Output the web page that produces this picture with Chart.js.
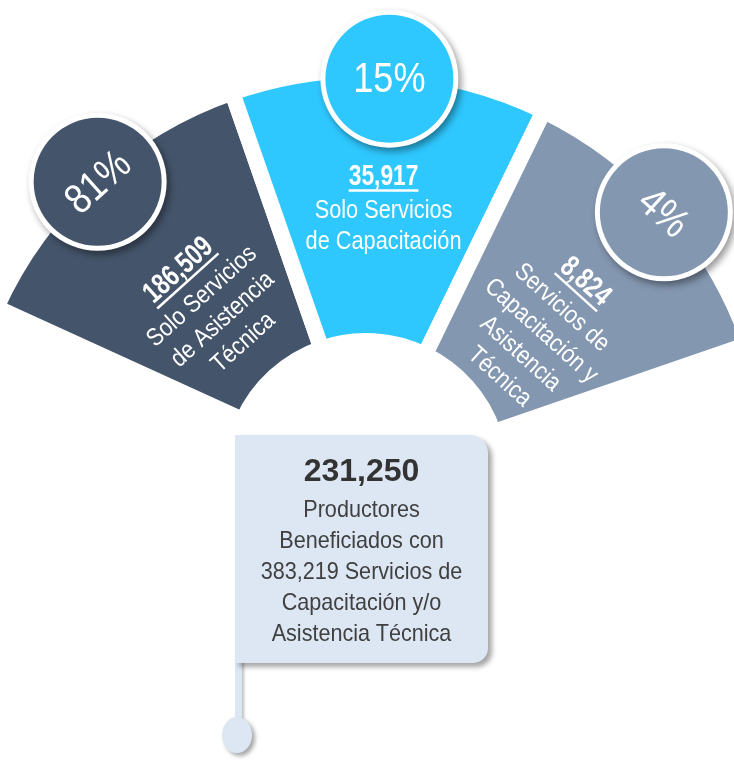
<!DOCTYPE html>
<html lang="es">
<head>
<meta charset="utf-8">
<script src="https://cdn.jsdelivr.net/npm/chart.js@4.4.1/dist/chart.umd.min.js"></script>
<style>
  html, body { margin: 0; padding: 0; background: #fff; }
  body { width: 734px; height: 763px; position: relative; overflow: hidden; }
  #fan { position: absolute; left: 0; top: 0; }
  .pole { position: absolute; left: 235px; top: 655px; width: 7px; height: 70px; background: #dde7f3; box-shadow: 2px 2px 3px rgba(0,0,0,0.25); }
  .knob { position: absolute; left: 222px; top: 717px; width: 30px; height: 36px; border-radius: 50%; background: #dde7f3; box-shadow: 3px 3px 4px rgba(0,0,0,0.35); }
  .flag { position: absolute; left: 235px; top: 435px; width: 253px; height: 228px; background: #dde7f3; border-radius: 0 18px 15px 0; box-shadow: 4px 4px 5px rgba(0,0,0,0.35); text-align: center; color: #404040; }
  .flag .big { font: bold 32px "Liberation Sans", Arial, sans-serif; color: #333; line-height: 40px; padding-top: 15px; }
  .flag .body { font: 24px "Liberation Sans", Arial, sans-serif; line-height: 31px; margin-top: 3px; transform: scaleX(0.9); transform-origin: 50% 0; white-space: nowrap; }
</style>
</head>
<body>
<canvas id="fan" width="734" height="763"></canvas>
<div class="pole"></div>
<div class="knob"></div>
<div class="flag"><div class="big" id="total"></div><div class="body" id="totalText"></div></div>
<script>
// slices of the fan (left to right)
const sliceNames = ["Solo Servicios de Asistencia Técnica", "Solo Servicios de Capacitación", "Servicios de Capacitación y Asistencia Técnica"];
const productores = [186509, 35917, 8824];
const porcentajes = [81, 15, 4];
// the fan draws the three slices about the same width, not by value
const sliceSpanDeg = [46.3, 45.2, 45];
const labelLines = [
  ["Solo Servicios", "de Asistencia", "Técnica"],
  ["Solo Servicios", "de Capacitación"],
  ["Servicios de", "Capacitación y", "Asistencia", "Técnica"]
];
const totalProductores = 231250;
const totalServicios = 383219;

// styling
const colors = ["#44546a", "#2fc8fe", "#8497b0"];
const labelRadius = [278, 300, 293];
const textRotationDeg = [-42, 0, 42];
const FONT = "'Liberation Sans', Arial, sans-serif";

const fmt = (n) => n.toLocaleString("en-US");

document.getElementById("total").textContent = fmt(totalProductores);
document.getElementById("totalText").innerHTML =
  "Productores<br>Beneficiados con<br>" + fmt(totalServicios) + " Servicios de<br>Capacitación y/o<br>Asistencia Técnica";

const fanLabels = {
  id: "fanLabels",
  afterDatasetsDraw(chart) {
    const ctx = chart.ctx;
    const arcs = chart.getDatasetMeta(0).data;
    arcs.forEach((arc, i) => {
      const { x, y, startAngle, endAngle, outerRadius } = arc;
      const mid = (startAngle + endAngle) / 2;
      const rot = textRotationDeg[i] * Math.PI / 180;

      // badge with percentage
      const bx = x + Math.cos(mid) * (outerRadius - 8);
      const by = y + Math.sin(mid) * (outerRadius - 8);
      ctx.save();
      ctx.shadowColor = "rgba(0,0,0,0.4)";
      ctx.shadowBlur = 7;
      ctx.shadowOffsetX = 3;
      ctx.shadowOffsetY = 4;
      ctx.beginPath();
      ctx.arc(bx, by, 69, 0, Math.PI * 2);
      ctx.fillStyle = "#fff";
      ctx.fill();
      ctx.restore();
      ctx.beginPath();
      ctx.arc(bx, by, 64, 0, Math.PI * 2);
      ctx.fillStyle = colors[i];
      ctx.fill();

      ctx.save();
      ctx.translate(bx, by);
      ctx.rotate(rot);
      ctx.scale(0.86, 1);
      ctx.fillStyle = "#fff";
      ctx.font = "42px " + FONT;
      ctx.textAlign = "center";
      ctx.textBaseline = "middle";
      ctx.fillText(porcentajes[i] + "%", 0, 2);
      ctx.restore();

      // value + description inside the slice
      const lx = x + Math.cos(mid) * labelRadius[i];
      const ly = y + Math.sin(mid) * labelRadius[i];
      ctx.save();
      ctx.translate(lx, ly);
      ctx.rotate(rot);
      ctx.fillStyle = "#fff";
      ctx.strokeStyle = "#fff";
      ctx.textAlign = "center";
      ctx.textBaseline = "middle";
      ctx.save();
      ctx.scale(0.76, 1);
      ctx.font = "bold 30px " + FONT;
      const num = fmt(productores[i]);
      ctx.fillText(num, 0, 0);
      const w = ctx.measureText(num).width;
      ctx.lineWidth = 2.5;
      ctx.beginPath();
      ctx.moveTo(-w / 2, 14);
      ctx.lineTo(w / 2, 14);
      ctx.stroke();
      ctx.restore();
      ctx.scale(0.87, 1);
      ctx.font = "25px " + FONT;
      labelLines[i].forEach((t, k) => ctx.fillText(t, 0, 35 + k * 31));
      ctx.restore();
    });
  }
};

new Chart(document.getElementById("fan"), {
  type: "doughnut",
  data: {
    labels: sliceNames,
    datasets: [{
      data: sliceSpanDeg,
      backgroundColor: colors,
      borderColor: "#fff",
      borderWidth: 16,
      borderJoinStyle: "miter",
      hoverOffset: 0
    }]
  },
  options: {
    responsive: false,
    animation: false,
    events: [],
    rotation: -65.5,
    circumference: sliceSpanDeg.reduce((a, b) => a + b, 0),
    radius: 406,
    cutout: "33.25%",
    layout: { padding: { left: 12, right: 0, top: 0, bottom: 261 } },
    plugins: { legend: { display: false }, tooltip: { enabled: false } }
  },
  plugins: [fanLabels]
});
</script>
</body>
</html>
